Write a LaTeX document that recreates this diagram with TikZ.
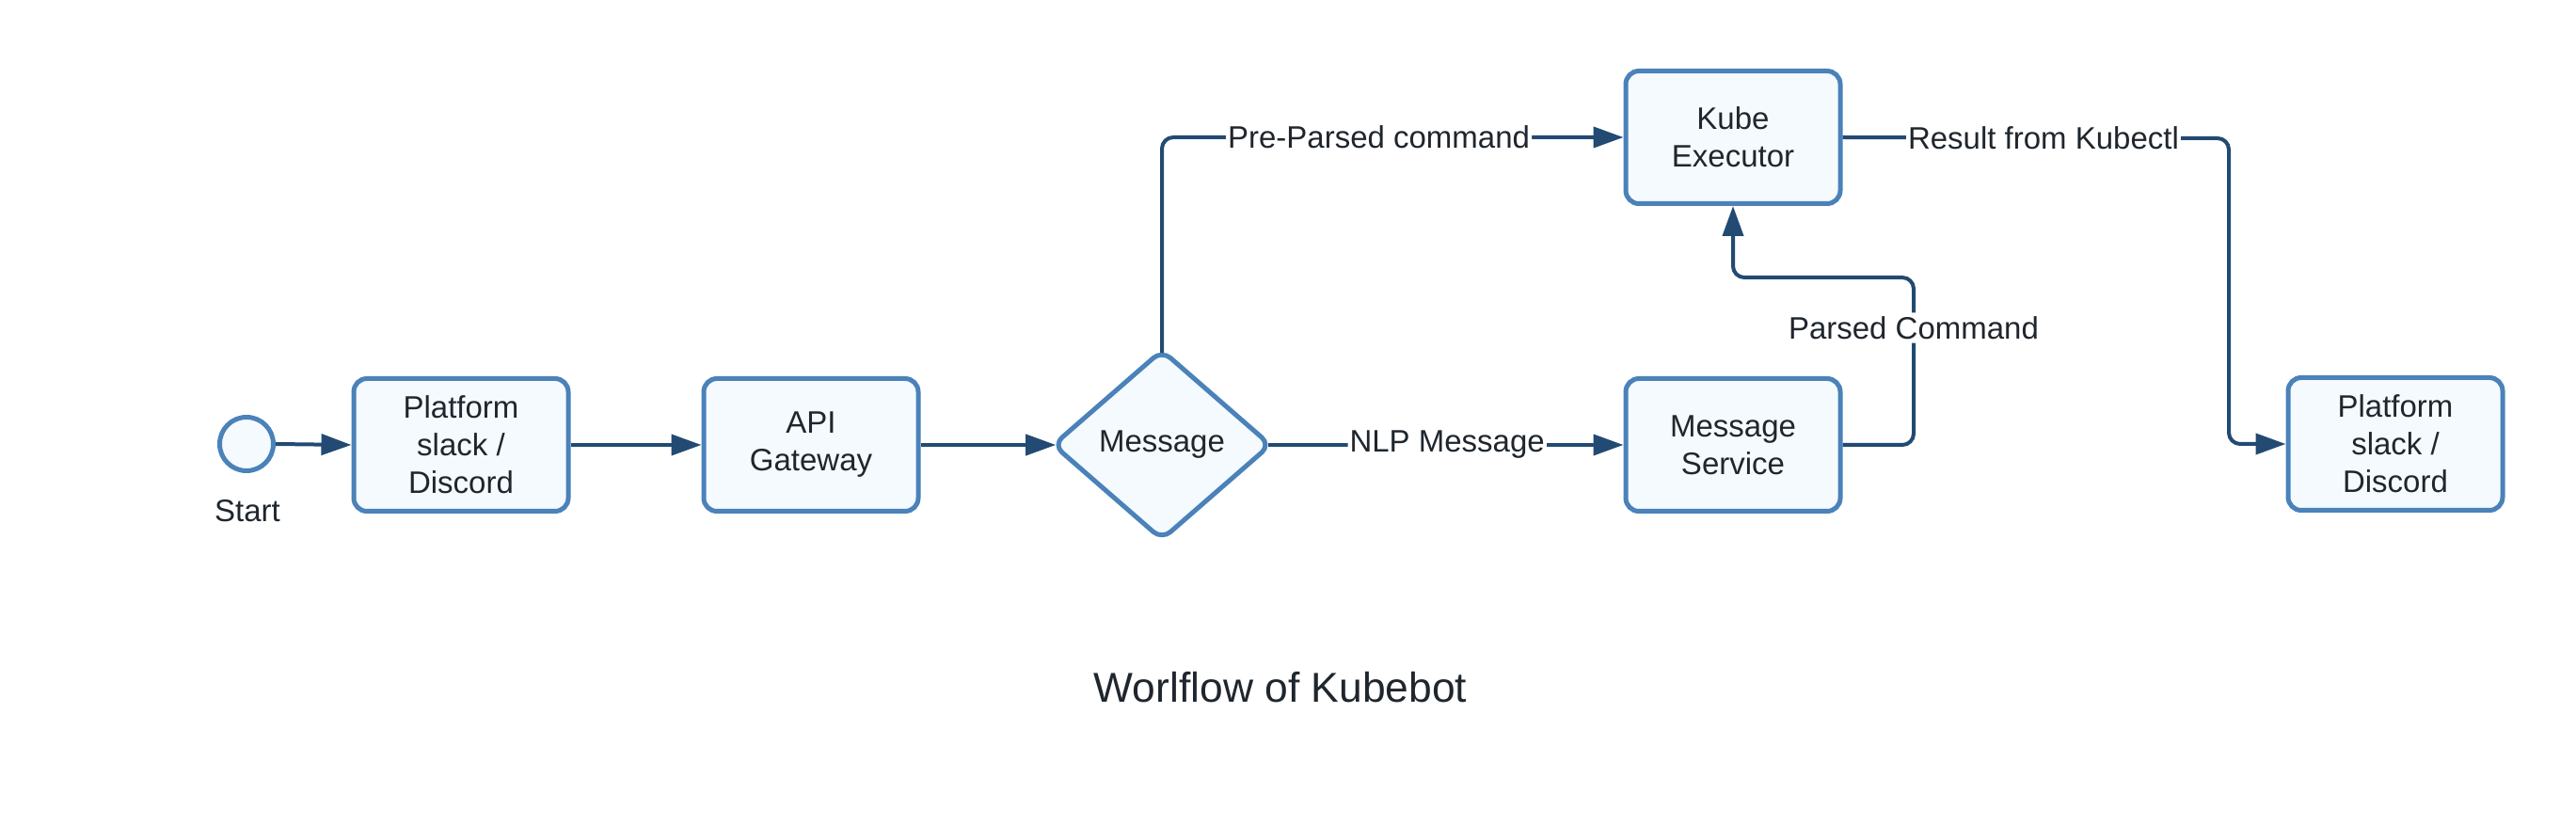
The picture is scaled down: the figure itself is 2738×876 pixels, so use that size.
\documentclass[tikz,border=0pt]{standalone}
\usepackage{fontspec}
\setmainfont{Liberation Sans}
\usetikzlibrary{arrows.meta,shapes.geometric}
\definecolor{bord}{HTML}{4A82B9}
\definecolor{fillc}{HTML}{F5FAFF}
\definecolor{linec}{HTML}{224A72}
\definecolor{txt}{HTML}{1F262D}
\begin{document}
\begin{tikzpicture}[x=0.5pt,y=-0.5pt,
  box/.style={draw=bord, line width=2.5pt, fill=fillc, rounded corners=7pt,
    minimum width=114pt, minimum height=70.5pt, align=center, inner sep=0pt,
    text=txt, font=\fontsize{16.5pt}{20pt}\selectfont},
  decision/.style={shape=diamond, draw=bord, line width=2.5pt, fill=fillc,
    rounded corners=6pt, minimum width=116.3pt, minimum height=101.4pt,
    inner sep=0pt, text=txt, font=\fontsize{16.5pt}{20pt}\selectfont},
  startev/.style={circle, draw=bord, line width=2.5pt, fill=fillc,
    minimum size=28.5pt, inner sep=0pt},
  plain/.style={text=txt, inner sep=0pt, font=\fontsize{16.5pt}{20pt}\selectfont},
  lbl/.style={fill=white, inner xsep=1pt, inner ysep=2pt, text=txt,
    font=\fontsize{16.5pt}{20pt}\selectfont},
  conn/.style={draw=linec, line width=2pt, rounded corners=6pt,
    -{Triangle[length=16pt,width=11pt]}},
  titlestyle/.style={text=txt, inner sep=0pt, font=\fontsize{22.2pt}{26pt}\selectfont}
]
\useasboundingbox (0,0) rectangle (2738,876);

\node[startev] (start) at (262,472) {};
\node[plain] (startlbl) at (263,543) {Start};
\node[box] (plat1) at (490,473) {Platform\\slack /\\Discord};
\node[box] (api) at (862,473) {API\\Gateway};
\node[decision] (msg) at (1235,473) {Message};
\node[box] (kube) at (1842,146) {Kube\\Executor};
\node[box] (svc) at (1842,473) {Message\\Service};
\node[box] (plat2) at (2546,472) {Platform\\slack /\\Discord};
\node[titlestyle] (title) at (1361,731) {Worlflow of Kubebot};

\coordinate (r1) at (2369,147);
\coordinate (p1) at (2034,473);
\coordinate (p2) at (2034,295);

\draw[conn] (start.east) -- (plat1.west);
\draw[conn] (plat1.east) -- (api.west);
\draw[conn, shorten >=-3pt] (api.east) -- (msg.west);
\draw[conn, shorten <=-3pt] (msg.north) |- node[lbl,pos=0.735] {Pre-Parsed command} (kube.west);
\draw[conn, shorten <=-3pt] (msg.east) -- node[lbl,pos=0.496] {NLP Message} (svc.west);
\draw[conn] (kube.east) -- node[lbl,pos=0.52] {Result from Kubectl} (r1) |- (plat2.west);
\draw[conn] (svc.east) -- (p1) -- node[lbl,pos=0.70] {Parsed Command} (p2) -| (kube.south);
\end{tikzpicture}
\end{document}
